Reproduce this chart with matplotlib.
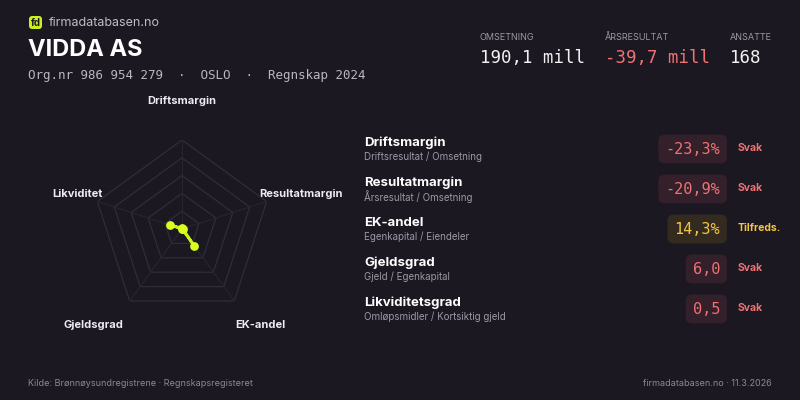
import numpy as np
import matplotlib.pyplot as plt
from matplotlib.patches import FancyBboxPatch

plt.rcParams['font.family'] = ['Inter', 'DejaVu Sans']
MONO = 'DejaVu Sans Mono'

company = "VIDDA AS"
subtitle = "Org.nr 986 954 279 · OSLO · Regnskap 2024"
kpi_labels = ["OMSETNING", "ÅRSRESULTAT", "ANSATTE"]
kpi_values = ["190,1 mill", "-39,7 mill", "168"]
kpi_colors = ["#f2f2f2", "#f07272", "#f2f2f2"]

axes_labels = ["Driftsmargin", "Resultatmargin", "EK-andel", "Gjeldsgrad", "Likviditet"]
radar_scores = [0.01, 0.01, 0.23, 0.0, 0.14]

metric_names = ["Driftsmargin", "Resultatmargin", "EK-andel", "Gjeldsgrad", "Likviditetsgrad"]
metric_desc = ["Driftsresultat / Omsetning", "Årsresultat / Omsetning", "Egenkapital / Eiendeler",
               "Gjeld / Egenkapital", "Omløpsmidler / Kortsiktig gjeld"]
metric_values = ["-23,3%", "-20,9%", "14,3%", "6,0", "0,5"]
metric_status = ["Svak", "Svak", "Tilfreds.", "Svak", "Svak"]

BG = "#1b1822"
status_style = {"Svak": ("#f07272", "#33202a"), "Tilfreds.": ("#f5c542", "#332b1f")}

fig = plt.figure(figsize=(8, 4), dpi=100, facecolor=BG)
ax = fig.add_axes([0, 0, 1, 1])
ax.set_xlim(0, 800)
ax.set_ylim(400, 0)
ax.axis('off')
ax.set_facecolor(BG)

# header
ax.add_patch(FancyBboxPatch((29, 16), 13, 13, boxstyle="round,pad=0,rounding_size=3",
                            fc="#c8f01e", ec="none"))
ax.text(35.5, 23, "fd", fontsize=7, color="#1b1822", ha='center', va='center', weight='bold')
ax.text(49, 23, "firmadatabasen.no", fontsize=9, color="#bdbdc4", va='center')
ax.text(28, 50, company, fontsize=17, color="#ffffff", va='center', weight='bold')
ax.text(28, 76, subtitle.replace(" · ", "  ·  "), fontsize=9, color="#b8b8c0", va='center', family=MONO)

kpi_x = [480, 605, 730]
for x, lab, val, col in zip(kpi_x, kpi_labels, kpi_values, kpi_colors):
    ax.text(x, 37, lab, fontsize=6.5, color="#9a9aa4", va='center')
    ax.text(x, 58, val, fontsize=12.5, color=col, va='center', family=MONO)

# metric rows
for i, (n, d, v, s) in enumerate(zip(metric_names, metric_desc, metric_values, metric_status)):
    y = 143 + 40 * i
    fg, bx = status_style[s]
    ax.text(364, y, n, fontsize=9.5, color="#ffffff", va='center', weight='bold')
    ax.text(364, y + 14, d, fontsize=7, color="#9a9aa4", va='center')
    ax.text(720, y + 6, v, fontsize=11, color=fg, va='center', ha='right', family=MONO,
            bbox=dict(boxstyle="round,pad=0.45,rounding_size=0.4", fc=bx, ec="none"))
    ax.text(738, y + 5, s, fontsize=7.5, color=fg, va='center', weight='bold')

# footer
ax.text(28, 383, "Kilde: Brønnøysundregistrene · Regnskapsregisteret", fontsize=6.5, color="#8a8a94", va='center')
ax.text(772, 383, "firmadatabasen.no · 11.3.2026", fontsize=6.5, color="#8a8a94", va='center', ha='right')

# radar
cx, cy, R = 182, 229, 89
pax = fig.add_axes([(cx - R) / 800, (400 - cy - R) / 400, 2 * R / 800, 2 * R / 400], projection='polar')
pax.set_facecolor('none')
pax.set_theta_zero_location('N')
pax.set_theta_direction(-1)
pax.set_ylim(0, 1)
pax.axis('off')
theta = np.linspace(0, 2 * np.pi, len(axes_labels), endpoint=False)
tc = np.append(theta, theta[0])
for r in [0.2, 0.4, 0.6, 0.8, 1.0]:
    pax.plot(tc, [r] * len(tc), color="#302d3a", lw=0.9)
for t in theta:
    pax.plot([t, t], [0, 1], color="#282532", lw=0.8)
sc = np.append(radar_scores, radar_scores[0])
pax.fill(tc, sc, color="#c8f01e", alpha=0.15)
pax.plot(tc, sc, color="#c8f01e", lw=2)
pax.scatter(theta, radar_scores, color="#d8ff1e", s=28, zorder=5)

label_pos = [(182, 101), (301, 194), (260, 325), (93, 325), (77, 194)]
for (lx, ly), lab in zip(label_pos, axes_labels):
    ax.text(lx, ly, lab, fontsize=8, color="#ececf0", ha='center', va='center', weight='bold')

fig.savefig("out.png", dpi=100, facecolor=BG)
